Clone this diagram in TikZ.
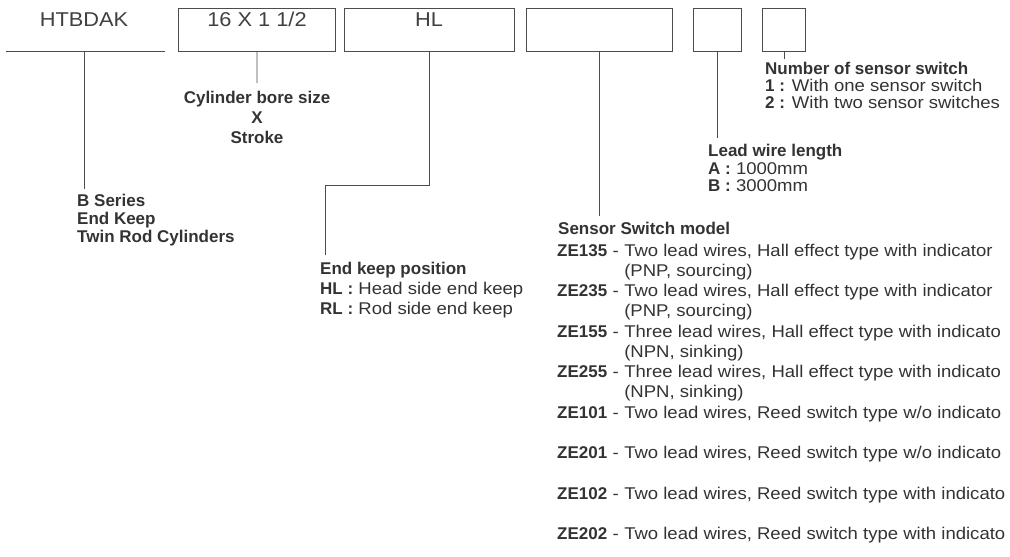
\documentclass[tikz,border=0pt]{standalone}
\usepackage{fontspec}
\setmainfont{Liberation Sans}[FakeStretch=1.09]
\newfontfamily\hdfont{Liberation Sans}[FakeStretch=1.0]
\usetikzlibrary{positioning}

\begin{document}
\begin{tikzpicture}[x=1pt,y=-1pt,
  box/.style={draw=black!70,line width=0.8pt,minimum height=43pt,inner sep=0pt,anchor=north west},
  code/.style={font=\fontsize{20}{24}\selectfont,text=black!75,inner sep=0pt,anchor=base},
  txt/.style={font=\fontsize{17}{17.5}\selectfont,text=black!80,inner sep=0pt,align=left,anchor=north west},
  key/.style={font=\fontsize{17}{17.5}\selectfont\hdfont\bfseries,text=black!80,inner sep=0pt},
  lead/.style={draw=black!70,line width=0.8pt}]
  \useasboundingbox (0,0) rectangle (1010,557);
  % code boxes
  \node[code] (prefix) at (84,26) {HTBDAK};
  \coordinate (ulA) at (6,51);
  \coordinate (ulB) at (165,51);
  \node[box,minimum width=157pt] (bore) at (178,8) {};
  \node[code] (boreTxt) at (257,26) {16 X 1 1/2};
  \node[box,minimum width=170pt] (pos) at (344,8) {};
  \node[code] (posTxt) at (429,26) {HL};
  \node[box,minimum width=146pt] (sensor) at (526,8) {};
  \node[box,minimum width=48pt] (wire) at (693,8) {};
  \node[box,minimum width=43pt] (count) at (762,8) {};
  % explanations
  \node[txt,align=center,anchor=north,font=\fontsize{17}{20}\selectfont\hdfont\bfseries] (boreInfo) at (257,91)
    {Cylinder bore size\\X\\Stroke};
  \node[txt,font=\fontsize{17}{18}\selectfont\hdfont\bfseries] (series) at (77,194)
    {B Series\\End Keep\\Twin Rod Cylinders};
  \node[txt,font=\fontsize{17}{20}\selectfont] (keep) at (320,262)
    {{\hdfont\bfseries End keep position}\\{\hdfont\bfseries HL :} Head side end keep\\{\hdfont\bfseries RL :} Rod side end keep};
  \coordinate (keepTop) at (325,255);
  \node[txt,font=\fontsize{17}{17.5}\selectfont] (wireInfo) at (708,144)
    {{\hdfont\bfseries Lead wire length}\\{\hdfont\bfseries A :} 1000mm\\{\hdfont\bfseries B :} 3000mm};
  \node[txt,font=\fontsize{17}{17}\selectfont] (countInfo) at (765,62)
    {{\hdfont\bfseries Number of sensor switch}\\{\hdfont\bfseries 1 :} With one sensor switch\\{\hdfont\bfseries 2 :} With two sensor switches};
  \node[key,anchor=north west] (model) at (558,222) {Sensor Switch model};
  % sensor switch list
  \foreach \c/\d/\s [count=\i from 0] in {
    ZE135/{Two lead wires, Hall effect type with indicator}/{(PNP, sourcing)},
    ZE235/{Two lead wires, Hall effect type with indicator}/{(PNP, sourcing)},
    ZE155/{Three lead wires, Hall effect type with indicato}/{(NPN, sinking)},
    ZE255/{Three lead wires, Hall effect type with indicato}/{(NPN, sinking)}}
  {
    \node[key,anchor=base west] (z\i) at (557,{256+40.5*\i}) {\c};
    \node[txt,anchor=base west,inner xsep=5pt] (zm\i) at (z\i.base east) {-};
    \node[txt,anchor=base west] (zd\i) at (zm\i.base east) {\d};
    \node[txt,anchor=base west] (zs\i) at ([yshift=-20pt]zd\i.base west) {\s};
  }
  \foreach \c/\d [count=\i from 4] in {
    ZE101/{Two lead wires, Reed switch type w/o indicato},
    ZE201/{Two lead wires, Reed switch type w/o indicato},
    ZE102/{Two lead wires, Reed switch type with indicato},
    ZE202/{Two lead wires, Reed switch type with indicato}}
  {
    \node[key,anchor=base west] (z\i) at (557,{256+40.5*\i}) {\c};
    \node[txt,anchor=base west,inner xsep=5pt] (zm\i) at (z\i.base east) {-};
    \node[txt,anchor=base west] (zd\i) at (zm\i.base east) {\d};
  }
  % leader lines
  \draw[lead] (ulA) -- (ulB);
  \draw[lead] (prefix.south |- ulA) -- ([yshift=5pt]prefix.south |- series.north);
  \draw[lead] (bore.south) -- ([yshift=8pt]boreInfo.north);
  \draw[lead] (pos.south) -- ++(0,134) -| (keepTop);
  \draw[lead] (sensor.south) -- ([yshift=6pt]sensor.south |- model.north);
  \draw[lead] (wire.south) -- ([yshift=6pt]wire.south |- wireInfo.north);
  \draw[lead] (count.south) -- ++(0,7);
\end{tikzpicture}
\end{document}
